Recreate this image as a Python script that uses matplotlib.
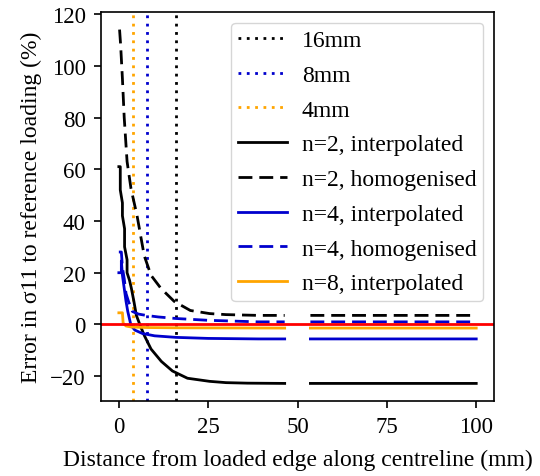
import numpy as np
import matplotlib
matplotlib.use("Agg")
import matplotlib.pyplot as plt

plt.rcParams['font.family'] = ['Liberation Serif', 'DejaVu Serif']

nan = np.nan

# vertical reference lines (mm)
ref_pos = [16, 8, 4]
ref_labels = ['16mm', '8mm', '4mm']
ref_colors = ['black', 'mediumblue', 'orange']

# n=2, interpolated
x_n2_interp = [0.0, 0.4, 0.4, 1.0, 1.0, 1.6, 1.6, 2.3, 2.3, 3.0, 3.5, 4.2, 4.9, 6.0, 7.1,
               9.0, 11.9, 15.0, 19.2, 25.4, 30.0, 36.0, 46.4, nan, 53.6, 100.0]
y_n2_interp = [61, 61, 52, 47, 42, 37, 30, 25, 20, 17, 14, 9, 3.5, -0.5, -4.2,
               -9.5, -14.3, -18.0, -20.8, -22.0, -22.5, -22.7, -22.8, nan, -22.8, -22.8]

# n=2, homogenised
x_n2_homog = [0.2, 0.5, 1.0, 1.5, 2.3, 3.4, 5.1, 7.1, 9.0, 11.8, 15.5, 20.0, 25.4, 30.0,
              39.0, 46.4, nan, 53.6, 100.0]
y_n2_homog = [114, 108, 95, 80, 63, 52.5, 42, 26.6, 19, 13.9, 8.9, 5.4, 4.2, 3.8,
              3.5, 3.5, nan, 3.5, 3.5]

# n=4, interpolated
x_n4_interp = [0.0, 0.7, 0.7, 1.0, 1.5, 2.0, 2.5, 3.4, 4.5, 6.6, 10.0, 16.0, 25.0, 39.0,
               46.4, nan, 53.6, 100.0]
y_n4_interp = [20, 20, 24.6, 19, 14, 9, 5, -0.4, -2.2, -3.5, -4.4, -5.0, -5.4, -5.6,
               -5.6, nan, -5.6, -5.6]

# n=4, homogenised
x_n4_homog = [0.0, 0.7, 1.0, 1.5, 2.0, 2.7, 3.8, 5.5, 7.6, 11.0, 16.0, 25.0, 39.0, 46.4,
              nan, 53.6, 100.0]
y_n4_homog = [28, 28, 22, 17.7, 12, 8.9, 5, 4, 3.5, 2.9, 2.3, 1.6, 1.0, 1.0,
              nan, 1.0, 1.0]

# n=8, interpolated
x_n8_interp = [0.0, 1.0, 1.2, 2.0, 3.5, 8.0, 16.0, 46.4, nan, 53.6, 100.0]
y_n8_interp = [4.5, 4.5, 0.5, -0.6, -1.0, -1.2, -1.3, -1.4, nan, -1.4, -1.4]

fig = plt.figure(figsize=(5.4, 4.77), dpi=100)
ax = fig.add_axes([0.187, 0.157, 0.728, 0.816])

for pos, lab, col in zip(ref_pos, ref_labels, ref_colors):
    ax.axvline(pos, color=col, linestyle=(0, (1, 2)), linewidth=2, label=lab)

dash = (0, (5, 2.5))
ax.plot(x_n2_interp, y_n2_interp, color='black', lw=2, label='n=2, interpolated')
ax.plot(x_n2_homog, y_n2_homog, color='black', lw=2, linestyle=dash, label='n=2, homogenised')
ax.plot(x_n4_interp, y_n4_interp, color='mediumblue', lw=2, label='n=4, interpolated')
ax.plot(x_n4_homog, y_n4_homog, color='mediumblue', lw=2, linestyle=dash, label='n=4, homogenised')
ax.plot(x_n8_interp, y_n8_interp, color='orange', lw=2, label='n=8, interpolated')
ax.axhline(0, color='red', lw=2)

ax.set_xticks([0, 25, 50, 75, 100])
ax.set_yticks([-20, 0, 20, 40, 60, 80, 100, 120])
ax.tick_params(labelsize=16.5, length=5, width=1.2, pad=6)
for s in ax.spines.values():
    s.set_linewidth(1.2)

ax.set_xlabel('Distance from loaded edge along centreline (mm)', fontsize=17, labelpad=8)
ax.set_ylabel('Error in σ11 to reference loading (%)', fontsize=17, labelpad=6)
ax.legend(loc='upper right', fontsize=17, borderpad=0.3, handletextpad=0.6,
          handlelength=2.1, borderaxespad=0.45, labelspacing=0.56)

fig.savefig('out.png', dpi=100)
